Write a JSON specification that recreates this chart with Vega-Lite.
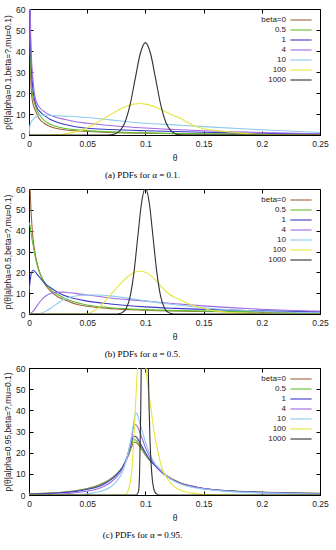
{
  "$schema": "https://vega.github.io/schema/vega-lite/v6.json",
  "padding": {"left": 3, "top": 4, "right": 0, "bottom": 0},
  "background": "white",
  "spacing": 3,
  "resolve": {"scale": {"color": "independent", "strokeWidth": "independent"}, "legend": {"color": "independent"}},
  "config": {
    "font": "Liberation Sans",
    "view": {"stroke": "black", "strokeWidth": 1},
    "axis": {"labelFont": "Liberation Sans", "labelFontSize": 8.5, "labelColor": "#222", "titleFont": "Liberation Sans", "titleFontSize": 8.5, "titleFontWeight": "normal", "titleColor": "#222", "tickColor": "black", "domainColor": "black", "grid": false, "tickSize": -4},
    "legend": {"labelFont": "Liberation Sans", "labelFontSize": 8, "labelColor": "#222"},
    "title": {"font": "Liberation Serif", "fontSize": 9, "fontWeight": "normal", "color": "black"}
  },
  "datasets": {
    "a": [
      {"beta": "beta=0", "t": 0.0003, "p": 90}, {"beta": "beta=0", "t": 0.0007, "p": 50}, {"beta": "beta=0", "t": 0.0012, "p": 32}, {"beta": "beta=0", "t": 0.002, "p": 21}, {"beta": "beta=0", "t": 0.003, "p": 16}, {"beta": "beta=0", "t": 0.0045, "p": 13}, {"beta": "beta=0", "t": 0.006, "p": 11}, {"beta": "beta=0", "t": 0.008, "p": 8.5}, {"beta": "beta=0", "t": 0.01, "p": 7}, {"beta": "beta=0", "t": 0.013, "p": 5.6}, {"beta": "beta=0", "t": 0.017, "p": 4.3}, {"beta": "beta=0", "t": 0.022, "p": 3.3}, {"beta": "beta=0", "t": 0.03, "p": 2.5}, {"beta": "beta=0", "t": 0.04, "p": 2.0}, {"beta": "beta=0", "t": 0.05, "p": 1.7}, {"beta": "beta=0", "t": 0.07, "p": 1.2}, {"beta": "beta=0", "t": 0.1, "p": 0.8}, {"beta": "beta=0", "t": 0.15, "p": 0.5}, {"beta": "beta=0", "t": 0.2, "p": 0.3}, {"beta": "beta=0", "t": 0.25, "p": 0.2},
      {"beta": "0.5", "t": 0.0004, "p": 90}, {"beta": "0.5", "t": 0.0008, "p": 55}, {"beta": "0.5", "t": 0.0013, "p": 38}, {"beta": "0.5", "t": 0.002, "p": 26}, {"beta": "0.5", "t": 0.003, "p": 19.5}, {"beta": "0.5", "t": 0.0045, "p": 15.5}, {"beta": "0.5", "t": 0.006, "p": 13}, {"beta": "0.5", "t": 0.008, "p": 10.5}, {"beta": "0.5", "t": 0.01, "p": 8.8}, {"beta": "0.5", "t": 0.013, "p": 7}, {"beta": "0.5", "t": 0.017, "p": 5.5}, {"beta": "0.5", "t": 0.022, "p": 4.3}, {"beta": "0.5", "t": 0.03, "p": 3.2}, {"beta": "0.5", "t": 0.04, "p": 2.5}, {"beta": "0.5", "t": 0.05, "p": 2.1}, {"beta": "0.5", "t": 0.07, "p": 1.5}, {"beta": "0.5", "t": 0.1, "p": 1.0}, {"beta": "0.5", "t": 0.15, "p": 0.6}, {"beta": "0.5", "t": 0.2, "p": 0.4}, {"beta": "0.5", "t": 0.25, "p": 0.25},
      {"beta": "1", "t": 0.0005, "p": 90}, {"beta": "1", "t": 0.001, "p": 55}, {"beta": "1", "t": 0.0017, "p": 38}, {"beta": "1", "t": 0.0025, "p": 28}, {"beta": "1", "t": 0.0035, "p": 21}, {"beta": "1", "t": 0.0049, "p": 16.5}, {"beta": "1", "t": 0.007, "p": 13}, {"beta": "1", "t": 0.01, "p": 10.8}, {"beta": "1", "t": 0.0134, "p": 9.2}, {"beta": "1", "t": 0.018, "p": 7.5}, {"beta": "1", "t": 0.023, "p": 6.3}, {"beta": "1", "t": 0.03, "p": 5.1}, {"beta": "1", "t": 0.04, "p": 3.9}, {"beta": "1", "t": 0.05, "p": 3.2}, {"beta": "1", "t": 0.07, "p": 2.6}, {"beta": "1", "t": 0.1, "p": 2.0}, {"beta": "1", "t": 0.15, "p": 1.3}, {"beta": "1", "t": 0.2, "p": 0.8}, {"beta": "1", "t": 0.25, "p": 0.5},
      {"beta": "4", "t": 0.0006, "p": 90}, {"beta": "4", "t": 0.0012, "p": 55}, {"beta": "4", "t": 0.002, "p": 38}, {"beta": "4", "t": 0.003, "p": 29}, {"beta": "4", "t": 0.004, "p": 23}, {"beta": "4", "t": 0.0049, "p": 19}, {"beta": "4", "t": 0.007, "p": 15}, {"beta": "4", "t": 0.01, "p": 12.5}, {"beta": "4", "t": 0.0134, "p": 11}, {"beta": "4", "t": 0.018, "p": 9.5}, {"beta": "4", "t": 0.023, "p": 8.5}, {"beta": "4", "t": 0.03, "p": 7.5}, {"beta": "4", "t": 0.04, "p": 6.3}, {"beta": "4", "t": 0.05, "p": 5.6}, {"beta": "4", "t": 0.07, "p": 4.5}, {"beta": "4", "t": 0.1, "p": 3.3}, {"beta": "4", "t": 0.125, "p": 2.6}, {"beta": "4", "t": 0.15, "p": 2.0}, {"beta": "4", "t": 0.2, "p": 1.2}, {"beta": "4", "t": 0.25, "p": 0.6},
      {"beta": "10", "t": 0, "p": 0}, {"beta": "10", "t": 0.0005, "p": 3.5}, {"beta": "10", "t": 0.001, "p": 5}, {"beta": "10", "t": 0.002, "p": 6.3}, {"beta": "10", "t": 0.004, "p": 7.8}, {"beta": "10", "t": 0.007, "p": 8.9}, {"beta": "10", "t": 0.011, "p": 9.5}, {"beta": "10", "t": 0.02, "p": 9.3}, {"beta": "10", "t": 0.03, "p": 9.0}, {"beta": "10", "t": 0.05, "p": 8.3}, {"beta": "10", "t": 0.07, "p": 7.2}, {"beta": "10", "t": 0.1, "p": 5.6}, {"beta": "10", "t": 0.125, "p": 4.8}, {"beta": "10", "t": 0.15, "p": 4.0}, {"beta": "10", "t": 0.2, "p": 2.5}, {"beta": "10", "t": 0.25, "p": 1.2},
      {"beta": "100", "t": 0, "p": 0}, {"beta": "100", "t": 0.025, "p": 0.1}, {"beta": "100", "t": 0.03, "p": 0.4}, {"beta": "100", "t": 0.035, "p": 0.9}, {"beta": "100", "t": 0.04, "p": 1.5}, {"beta": "100", "t": 0.045, "p": 2.2}, {"beta": "100", "t": 0.05, "p": 3.4}, {"beta": "100", "t": 0.055, "p": 4.8}, {"beta": "100", "t": 0.06, "p": 6.3}, {"beta": "100", "t": 0.065, "p": 8}, {"beta": "100", "t": 0.07, "p": 9.7}, {"beta": "100", "t": 0.075, "p": 11.3}, {"beta": "100", "t": 0.08, "p": 12.8}, {"beta": "100", "t": 0.085, "p": 13.9}, {"beta": "100", "t": 0.09, "p": 14.7}, {"beta": "100", "t": 0.095, "p": 15}, {"beta": "100", "t": 0.1, "p": 14.7}, {"beta": "100", "t": 0.105, "p": 14}, {"beta": "100", "t": 0.11, "p": 13}, {"beta": "100", "t": 0.115, "p": 11.7}, {"beta": "100", "t": 0.12, "p": 10.4}, {"beta": "100", "t": 0.125, "p": 9.1}, {"beta": "100", "t": 0.13, "p": 8}, {"beta": "100", "t": 0.135, "p": 6.3}, {"beta": "100", "t": 0.14, "p": 4.9}, {"beta": "100", "t": 0.145, "p": 3.8}, {"beta": "100", "t": 0.15, "p": 3.0}, {"beta": "100", "t": 0.16, "p": 2.2}, {"beta": "100", "t": 0.17, "p": 1.6}, {"beta": "100", "t": 0.18, "p": 1.0}, {"beta": "100", "t": 0.19, "p": 0.6}, {"beta": "100", "t": 0.2, "p": 0.3}, {"beta": "100", "t": 0.22, "p": 0.1}, {"beta": "100", "t": 0.25, "p": 0},
      {"beta": "1000", "t": 0, "p": 0}, {"beta": "1000", "t": 0.066, "p": 0}, {"beta": "1000", "t": 0.07, "p": 0.05}, {"beta": "1000", "t": 0.0736, "p": 0.49}, {"beta": "1000", "t": 0.078, "p": 1.93}, {"beta": "1000", "t": 0.0824, "p": 5.95}, {"beta": "1000", "t": 0.0868, "p": 14.3}, {"beta": "1000", "t": 0.0912, "p": 26.7}, {"beta": "1000", "t": 0.0956, "p": 38.8}, {"beta": "1000", "t": 0.1, "p": 44}, {"beta": "1000", "t": 0.1044, "p": 38.8}, {"beta": "1000", "t": 0.1088, "p": 26.7}, {"beta": "1000", "t": 0.1132, "p": 14.3}, {"beta": "1000", "t": 0.1176, "p": 5.95}, {"beta": "1000", "t": 0.122, "p": 1.93}, {"beta": "1000", "t": 0.1264, "p": 0.49}, {"beta": "1000", "t": 0.13, "p": 0.05}, {"beta": "1000", "t": 0.134, "p": 0}, {"beta": "1000", "t": 0.25, "p": 0}
    ],
    "b": [
      {"beta": "beta=0", "t": 0.0003, "p": 90}, {"beta": "beta=0", "t": 0.0006, "p": 70}, {"beta": "beta=0", "t": 0.001, "p": 60}, {"beta": "beta=0", "t": 0.002, "p": 47}, {"beta": "beta=0", "t": 0.0035, "p": 36}, {"beta": "beta=0", "t": 0.005, "p": 30}, {"beta": "beta=0", "t": 0.0063, "p": 26}, {"beta": "beta=0", "t": 0.008, "p": 22}, {"beta": "beta=0", "t": 0.0106, "p": 17.8}, {"beta": "beta=0", "t": 0.014, "p": 14}, {"beta": "beta=0", "t": 0.0192, "p": 10.6}, {"beta": "beta=0", "t": 0.025, "p": 8.2}, {"beta": "beta=0", "t": 0.0306, "p": 6.8}, {"beta": "beta=0", "t": 0.04, "p": 4.8}, {"beta": "beta=0", "t": 0.05, "p": 3.7}, {"beta": "beta=0", "t": 0.07, "p": 2.6}, {"beta": "beta=0", "t": 0.1, "p": 1.8}, {"beta": "beta=0", "t": 0.15, "p": 1.2}, {"beta": "beta=0", "t": 0.2, "p": 0.9}, {"beta": "beta=0", "t": 0.25, "p": 0.7},
      {"beta": "0.5", "t": 0, "p": 44}, {"beta": "0.5", "t": 0.001, "p": 42}, {"beta": "0.5", "t": 0.002, "p": 38}, {"beta": "0.5", "t": 0.0035, "p": 33}, {"beta": "0.5", "t": 0.005, "p": 28.5}, {"beta": "0.5", "t": 0.0063, "p": 25}, {"beta": "0.5", "t": 0.008, "p": 21.5}, {"beta": "0.5", "t": 0.0106, "p": 18}, {"beta": "0.5", "t": 0.014, "p": 14.8}, {"beta": "0.5", "t": 0.0192, "p": 11.5}, {"beta": "0.5", "t": 0.025, "p": 9.2}, {"beta": "0.5", "t": 0.0306, "p": 7.6}, {"beta": "0.5", "t": 0.04, "p": 5.6}, {"beta": "0.5", "t": 0.05, "p": 4.3}, {"beta": "0.5", "t": 0.07, "p": 3.0}, {"beta": "0.5", "t": 0.1, "p": 2.1}, {"beta": "0.5", "t": 0.15, "p": 1.4}, {"beta": "0.5", "t": 0.2, "p": 1.0}, {"beta": "0.5", "t": 0.25, "p": 0.75},
      {"beta": "1", "t": 0, "p": 10}, {"beta": "1", "t": 0.001, "p": 16}, {"beta": "1", "t": 0.002, "p": 19.5}, {"beta": "1", "t": 0.0034, "p": 21}, {"beta": "1", "t": 0.005, "p": 20.5}, {"beta": "1", "t": 0.007, "p": 19}, {"beta": "1", "t": 0.01, "p": 17}, {"beta": "1", "t": 0.014, "p": 14.5}, {"beta": "1", "t": 0.019, "p": 12.5}, {"beta": "1", "t": 0.026, "p": 10}, {"beta": "1", "t": 0.035, "p": 8}, {"beta": "1", "t": 0.049, "p": 6.3}, {"beta": "1", "t": 0.07, "p": 4.8}, {"beta": "1", "t": 0.1, "p": 3.4}, {"beta": "1", "t": 0.126, "p": 2.7}, {"beta": "1", "t": 0.15, "p": 2.2}, {"beta": "1", "t": 0.2, "p": 1.5}, {"beta": "1", "t": 0.25, "p": 1.0},
      {"beta": "4", "t": 0, "p": 0}, {"beta": "4", "t": 0.003, "p": 1}, {"beta": "4", "t": 0.006, "p": 3.2}, {"beta": "4", "t": 0.009, "p": 5.6}, {"beta": "4", "t": 0.012, "p": 7.5}, {"beta": "4", "t": 0.015, "p": 8.9}, {"beta": "4", "t": 0.0175, "p": 9.6}, {"beta": "4", "t": 0.021, "p": 10.2}, {"beta": "4", "t": 0.029, "p": 10.5}, {"beta": "4", "t": 0.035, "p": 10.2}, {"beta": "4", "t": 0.04, "p": 9.9}, {"beta": "4", "t": 0.05, "p": 9.1}, {"beta": "4", "t": 0.07, "p": 7.7}, {"beta": "4", "t": 0.1, "p": 6.2}, {"beta": "4", "t": 0.126, "p": 4.9}, {"beta": "4", "t": 0.15, "p": 3.9}, {"beta": "4", "t": 0.2, "p": 2.3}, {"beta": "4", "t": 0.25, "p": 1.4},
      {"beta": "10", "t": 0, "p": 0}, {"beta": "10", "t": 0.005, "p": 0}, {"beta": "10", "t": 0.01, "p": 0.3}, {"beta": "10", "t": 0.015, "p": 1.5}, {"beta": "10", "t": 0.02, "p": 3.3}, {"beta": "10", "t": 0.025, "p": 5.3}, {"beta": "10", "t": 0.029, "p": 6.8}, {"beta": "10", "t": 0.035, "p": 8}, {"beta": "10", "t": 0.04, "p": 8.6}, {"beta": "10", "t": 0.05, "p": 9.1}, {"beta": "10", "t": 0.06, "p": 9.1}, {"beta": "10", "t": 0.07, "p": 8.7}, {"beta": "10", "t": 0.08, "p": 8.0}, {"beta": "10", "t": 0.1, "p": 6.3}, {"beta": "10", "t": 0.12, "p": 4.8}, {"beta": "10", "t": 0.15, "p": 3.0}, {"beta": "10", "t": 0.2, "p": 1.3}, {"beta": "10", "t": 0.25, "p": 0.6},
      {"beta": "100", "t": 0, "p": 0}, {"beta": "100", "t": 0.046, "p": 0}, {"beta": "100", "t": 0.05, "p": 0.1}, {"beta": "100", "t": 0.055, "p": 1.3}, {"beta": "100", "t": 0.06, "p": 3.2}, {"beta": "100", "t": 0.065, "p": 6}, {"beta": "100", "t": 0.07, "p": 9.2}, {"beta": "100", "t": 0.075, "p": 12.3}, {"beta": "100", "t": 0.08, "p": 15.3}, {"beta": "100", "t": 0.085, "p": 18}, {"beta": "100", "t": 0.09, "p": 19.9}, {"beta": "100", "t": 0.095, "p": 20.5}, {"beta": "100", "t": 0.1, "p": 20}, {"beta": "100", "t": 0.105, "p": 18.3}, {"beta": "100", "t": 0.11, "p": 15.5}, {"beta": "100", "t": 0.115, "p": 12.4}, {"beta": "100", "t": 0.12, "p": 9.7}, {"beta": "100", "t": 0.125, "p": 8}, {"beta": "100", "t": 0.13, "p": 6.8}, {"beta": "100", "t": 0.135, "p": 5.4}, {"beta": "100", "t": 0.14, "p": 4.3}, {"beta": "100", "t": 0.145, "p": 3.4}, {"beta": "100", "t": 0.15, "p": 2.6}, {"beta": "100", "t": 0.16, "p": 1.5}, {"beta": "100", "t": 0.17, "p": 0.8}, {"beta": "100", "t": 0.18, "p": 0.4}, {"beta": "100", "t": 0.2, "p": 0.1}, {"beta": "100", "t": 0.25, "p": 0},
      {"beta": "1000", "t": 0, "p": 0}, {"beta": "1000", "t": 0.074, "p": 0}, {"beta": "1000", "t": 0.077, "p": 0.13}, {"beta": "1000", "t": 0.0802, "p": 0.67}, {"beta": "1000", "t": 0.0835, "p": 2.65}, {"beta": "1000", "t": 0.0868, "p": 8.2}, {"beta": "1000", "t": 0.0901, "p": 19.6}, {"beta": "1000", "t": 0.0934, "p": 36.7}, {"beta": "1000", "t": 0.0967, "p": 53.4}, {"beta": "1000", "t": 0.1, "p": 60.5}, {"beta": "1000", "t": 0.1033, "p": 53.4}, {"beta": "1000", "t": 0.1066, "p": 36.7}, {"beta": "1000", "t": 0.1099, "p": 19.6}, {"beta": "1000", "t": 0.1132, "p": 8.2}, {"beta": "1000", "t": 0.1165, "p": 2.65}, {"beta": "1000", "t": 0.1198, "p": 0.67}, {"beta": "1000", "t": 0.123, "p": 0.13}, {"beta": "1000", "t": 0.126, "p": 0}, {"beta": "1000", "t": 0.25, "p": 0}
    ],
    "c": [
      {"beta": "beta=0", "t": 0, "p": 0.6}, {"beta": "beta=0", "t": 0.02, "p": 1.0}, {"beta": "beta=0", "t": 0.03, "p": 1.4}, {"beta": "beta=0", "t": 0.04, "p": 2.0}, {"beta": "beta=0", "t": 0.05, "p": 3.0}, {"beta": "beta=0", "t": 0.06, "p": 4.7}, {"beta": "beta=0", "t": 0.065, "p": 6}, {"beta": "beta=0", "t": 0.07, "p": 7.6}, {"beta": "beta=0", "t": 0.075, "p": 9.8}, {"beta": "beta=0", "t": 0.08, "p": 13}, {"beta": "beta=0", "t": 0.083, "p": 15.7}, {"beta": "beta=0", "t": 0.086, "p": 19.5}, {"beta": "beta=0", "t": 0.088, "p": 22.5}, {"beta": "beta=0", "t": 0.09, "p": 25}, {"beta": "beta=0", "t": 0.092, "p": 24.8}, {"beta": "beta=0", "t": 0.095, "p": 23}, {"beta": "beta=0", "t": 0.1, "p": 18.9}, {"beta": "beta=0", "t": 0.104, "p": 16.2}, {"beta": "beta=0", "t": 0.108, "p": 14.2}, {"beta": "beta=0", "t": 0.115, "p": 10.5}, {"beta": "beta=0", "t": 0.122, "p": 7.9}, {"beta": "beta=0", "t": 0.13, "p": 5.8}, {"beta": "beta=0", "t": 0.14, "p": 4.2}, {"beta": "beta=0", "t": 0.15, "p": 3.1}, {"beta": "beta=0", "t": 0.17, "p": 2.1}, {"beta": "beta=0", "t": 0.2, "p": 1.4}, {"beta": "beta=0", "t": 0.25, "p": 0.8},
      {"beta": "0.5", "t": 0, "p": 0.5}, {"beta": "0.5", "t": 0.02, "p": 0.9}, {"beta": "0.5", "t": 0.03, "p": 1.3}, {"beta": "0.5", "t": 0.04, "p": 1.9}, {"beta": "0.5", "t": 0.05, "p": 2.8}, {"beta": "0.5", "t": 0.06, "p": 4.4}, {"beta": "0.5", "t": 0.065, "p": 5.7}, {"beta": "0.5", "t": 0.07, "p": 7.4}, {"beta": "0.5", "t": 0.075, "p": 9.7}, {"beta": "0.5", "t": 0.08, "p": 13}, {"beta": "0.5", "t": 0.083, "p": 16}, {"beta": "0.5", "t": 0.086, "p": 20.3}, {"beta": "0.5", "t": 0.088, "p": 23.6}, {"beta": "0.5", "t": 0.09, "p": 26.2}, {"beta": "0.5", "t": 0.092, "p": 25.9}, {"beta": "0.5", "t": 0.095, "p": 23.8}, {"beta": "0.5", "t": 0.1, "p": 19.3}, {"beta": "0.5", "t": 0.104, "p": 16.3}, {"beta": "0.5", "t": 0.108, "p": 14.1}, {"beta": "0.5", "t": 0.115, "p": 10.3}, {"beta": "0.5", "t": 0.122, "p": 7.7}, {"beta": "0.5", "t": 0.13, "p": 5.6}, {"beta": "0.5", "t": 0.14, "p": 4.0}, {"beta": "0.5", "t": 0.15, "p": 3.0}, {"beta": "0.5", "t": 0.17, "p": 2.0}, {"beta": "0.5", "t": 0.2, "p": 1.3}, {"beta": "0.5", "t": 0.25, "p": 0.7},
      {"beta": "1", "t": 0, "p": 0.4}, {"beta": "1", "t": 0.02, "p": 0.8}, {"beta": "1", "t": 0.03, "p": 1.2}, {"beta": "1", "t": 0.04, "p": 1.7}, {"beta": "1", "t": 0.05, "p": 2.6}, {"beta": "1", "t": 0.06, "p": 4.0}, {"beta": "1", "t": 0.065, "p": 5.3}, {"beta": "1", "t": 0.07, "p": 7}, {"beta": "1", "t": 0.075, "p": 9.4}, {"beta": "1", "t": 0.08, "p": 12.8}, {"beta": "1", "t": 0.083, "p": 16.2}, {"beta": "1", "t": 0.086, "p": 21}, {"beta": "1", "t": 0.088, "p": 25}, {"beta": "1", "t": 0.09, "p": 27.8}, {"beta": "1", "t": 0.092, "p": 27.5}, {"beta": "1", "t": 0.095, "p": 25}, {"beta": "1", "t": 0.1, "p": 20}, {"beta": "1", "t": 0.104, "p": 16.5}, {"beta": "1", "t": 0.108, "p": 14}, {"beta": "1", "t": 0.115, "p": 10.2}, {"beta": "1", "t": 0.122, "p": 7.6}, {"beta": "1", "t": 0.13, "p": 5.6}, {"beta": "1", "t": 0.14, "p": 4.1}, {"beta": "1", "t": 0.15, "p": 3.1}, {"beta": "1", "t": 0.17, "p": 2.0}, {"beta": "1", "t": 0.2, "p": 1.3}, {"beta": "1", "t": 0.25, "p": 0.7},
      {"beta": "4", "t": 0, "p": 0.1}, {"beta": "4", "t": 0.03, "p": 0.6}, {"beta": "4", "t": 0.04, "p": 1.1}, {"beta": "4", "t": 0.05, "p": 1.8}, {"beta": "4", "t": 0.06, "p": 3.1}, {"beta": "4", "t": 0.065, "p": 4.3}, {"beta": "4", "t": 0.07, "p": 5.9}, {"beta": "4", "t": 0.075, "p": 8.3}, {"beta": "4", "t": 0.08, "p": 12}, {"beta": "4", "t": 0.083, "p": 15.7}, {"beta": "4", "t": 0.086, "p": 21.5}, {"beta": "4", "t": 0.088, "p": 26.5}, {"beta": "4", "t": 0.09, "p": 32.5}, {"beta": "4", "t": 0.091, "p": 33.4}, {"beta": "4", "t": 0.093, "p": 32.5}, {"beta": "4", "t": 0.096, "p": 28.5}, {"beta": "4", "t": 0.1, "p": 22.5}, {"beta": "4", "t": 0.104, "p": 17.8}, {"beta": "4", "t": 0.108, "p": 14.5}, {"beta": "4", "t": 0.115, "p": 10.3}, {"beta": "4", "t": 0.122, "p": 7.5}, {"beta": "4", "t": 0.13, "p": 5.5}, {"beta": "4", "t": 0.14, "p": 4.0}, {"beta": "4", "t": 0.15, "p": 3.0}, {"beta": "4", "t": 0.17, "p": 1.9}, {"beta": "4", "t": 0.2, "p": 1.1}, {"beta": "4", "t": 0.25, "p": 0.5},
      {"beta": "10", "t": 0, "p": 0}, {"beta": "10", "t": 0.04, "p": 0.2}, {"beta": "10", "t": 0.05, "p": 0.6}, {"beta": "10", "t": 0.06, "p": 1.5}, {"beta": "10", "t": 0.065, "p": 2.4}, {"beta": "10", "t": 0.07, "p": 3.8}, {"beta": "10", "t": 0.075, "p": 6.3}, {"beta": "10", "t": 0.08, "p": 10.5}, {"beta": "10", "t": 0.083, "p": 15.3}, {"beta": "10", "t": 0.086, "p": 22}, {"beta": "10", "t": 0.088, "p": 27.5}, {"beta": "10", "t": 0.09, "p": 34.5}, {"beta": "10", "t": 0.0915, "p": 38.9}, {"beta": "10", "t": 0.093, "p": 38}, {"beta": "10", "t": 0.096, "p": 32.5}, {"beta": "10", "t": 0.1, "p": 25}, {"beta": "10", "t": 0.104, "p": 19}, {"beta": "10", "t": 0.108, "p": 15}, {"beta": "10", "t": 0.112, "p": 12.6}, {"beta": "10", "t": 0.118, "p": 9.3}, {"beta": "10", "t": 0.125, "p": 6.5}, {"beta": "10", "t": 0.13, "p": 5.2}, {"beta": "10", "t": 0.14, "p": 3.7}, {"beta": "10", "t": 0.15, "p": 2.8}, {"beta": "10", "t": 0.17, "p": 1.7}, {"beta": "10", "t": 0.2, "p": 1.0}, {"beta": "10", "t": 0.25, "p": 0.4},
      {"beta": "100", "t": 0, "p": 0}, {"beta": "100", "t": 0.082, "p": 0}, {"beta": "100", "t": 0.084, "p": 0.8}, {"beta": "100", "t": 0.086, "p": 3.5}, {"beta": "100", "t": 0.088, "p": 10}, {"beta": "100", "t": 0.09, "p": 25}, {"beta": "100", "t": 0.092, "p": 48}, {"beta": "100", "t": 0.094, "p": 66}, {"beta": "100", "t": 0.096, "p": 73}, {"beta": "100", "t": 0.098, "p": 70}, {"beta": "100", "t": 0.1, "p": 62}, {"beta": "100", "t": 0.102, "p": 52}, {"beta": "100", "t": 0.105, "p": 40}, {"beta": "100", "t": 0.108, "p": 28}, {"beta": "100", "t": 0.111, "p": 20}, {"beta": "100", "t": 0.114, "p": 13}, {"beta": "100", "t": 0.118, "p": 8.5}, {"beta": "100", "t": 0.122, "p": 5.5}, {"beta": "100", "t": 0.126, "p": 3.5}, {"beta": "100", "t": 0.13, "p": 2.3}, {"beta": "100", "t": 0.14, "p": 0.9}, {"beta": "100", "t": 0.15, "p": 0.3}, {"beta": "100", "t": 0.17, "p": 0.05}, {"beta": "100", "t": 0.25, "p": 0},
      {"beta": "1000", "t": 0, "p": 0}, {"beta": "1000", "t": 0.092, "p": 0}, {"beta": "1000", "t": 0.094, "p": 1.5}, {"beta": "1000", "t": 0.095, "p": 10}, {"beta": "1000", "t": 0.096, "p": 40}, {"beta": "1000", "t": 0.097, "p": 90}, {"beta": "1000", "t": 0.099, "p": 130}, {"beta": "1000", "t": 0.1, "p": 132}, {"beta": "1000", "t": 0.101, "p": 115}, {"beta": "1000", "t": 0.102, "p": 75}, {"beta": "1000", "t": 0.103, "p": 45}, {"beta": "1000", "t": 0.104, "p": 25}, {"beta": "1000", "t": 0.105, "p": 14}, {"beta": "1000", "t": 0.106, "p": 7}, {"beta": "1000", "t": 0.107, "p": 3.5}, {"beta": "1000", "t": 0.108, "p": 1.5}, {"beta": "1000", "t": 0.11, "p": 0.3}, {"beta": "1000", "t": 0.112, "p": 0}, {"beta": "1000", "t": 0.25, "p": 0}
    ]
  },
  "vconcat": [
    {
      "width": 291, "height": 126,
      "data": {"name": "a"},
      "title": {"text": "(a) PDFs for α = 0.1.", "orient": "bottom", "offset": 9, "dx": -32},
      "resolve": {"axis": {"x": "independent", "y": "independent"}},
      "layer": [
        {
          "mark": {"type": "line", "clip": true, "interpolate": "monotone"},
          "encoding": {
            "x": {"field": "t", "type": "quantitative", "scale": {"domain": [0, 0.25], "nice": false}, "axis": {"values": [0, 0.05, 0.1, 0.15, 0.2, 0.25], "format": "~g", "labelPadding": 8, "title": "θ", "titlePadding": 6, "labelFlush": false}},
            "y": {"field": "p", "type": "quantitative", "scale": {"domain": [0, 60], "nice": false}, "axis": {"values": [0, 10, 20, 30, 40, 50, 60], "labelPadding": 8, "title": "p(θ|alpha=0.1,beta=?,mu=0.1)", "titlePadding": 3, "labelFlush": false}},
            "color": {"field": "beta", "type": "nominal", "scale": {"domain": ["beta=0", "0.5", "1", "4", "10", "100", "1000"], "range": ["#a0623c", "#5fbf2f", "#3b3bc8", "#a06be0", "#8ccaf0", "#e6e63c", "#303030"]}, "legend": {"orient": "top-right", "offset": 6, "title": null, "symbolType": "M-2.5,0H2.5", "symbolSize": 72, "symbolStrokeWidth": 1.5, "labelAlign": "right", "labelOffset": -20, "rowPadding": 1, "padding": 0}},
            "strokeWidth": {"field": "beta", "type": "nominal", "scale": {"domain": ["beta=0", "0.5", "1", "4", "10", "100", "1000"], "range": [1.1, 1.1, 1.4, 1.1, 1.1, 1.8, 1.1]}, "legend": null}
          }
        },
        {
          "mark": {"type": "line", "strokeOpacity": 0, "clip": true},
          "encoding": {
            "x": {"field": "t", "type": "quantitative", "axis": {"orient": "top", "values": [0, 0.05, 0.1, 0.15, 0.2, 0.25], "labels": false, "title": null, "domain": false}},
            "y": {"field": "p", "type": "quantitative", "axis": {"orient": "right", "values": [0, 10, 20, 30, 40, 50, 60], "labels": false, "title": null, "domain": false}}
          }
        }
      ]
    },
    {
      "width": 291, "height": 125,
      "data": {"name": "b"},
      "title": {"text": "(b) PDFs for α = 0.5.", "orient": "bottom", "offset": 9, "dx": -32},
      "resolve": {"axis": {"x": "independent", "y": "independent"}},
      "layer": [
        {
          "mark": {"type": "line", "clip": true, "interpolate": "monotone"},
          "encoding": {
            "x": {"field": "t", "type": "quantitative", "scale": {"domain": [0, 0.25], "nice": false}, "axis": {"values": [0, 0.05, 0.1, 0.15, 0.2, 0.25], "format": "~g", "labelPadding": 8, "title": "θ", "titlePadding": 6, "labelFlush": false}},
            "y": {"field": "p", "type": "quantitative", "scale": {"domain": [0, 60], "nice": false}, "axis": {"values": [0, 10, 20, 30, 40, 50, 60], "labelPadding": 8, "title": "p(θ|alpha=0.5,beta=?,mu=0.1)", "titlePadding": 3, "labelFlush": false}},
            "color": {"field": "beta", "type": "nominal", "scale": {"domain": ["beta=0", "0.5", "1", "4", "10", "100", "1000"], "range": ["#a0623c", "#5fbf2f", "#3b3bc8", "#a06be0", "#8ccaf0", "#e6e63c", "#303030"]}, "legend": {"orient": "top-right", "offset": 6, "title": null, "symbolType": "M-2.5,0H2.5", "symbolSize": 72, "symbolStrokeWidth": 1.5, "labelAlign": "right", "labelOffset": -20, "rowPadding": 1, "padding": 0}},
            "strokeWidth": {"field": "beta", "type": "nominal", "scale": {"domain": ["beta=0", "0.5", "1", "4", "10", "100", "1000"], "range": [1.1, 1.1, 1.4, 1.1, 1.1, 1.8, 1.1]}, "legend": null}
          }
        },
        {
          "mark": {"type": "line", "strokeOpacity": 0, "clip": true},
          "encoding": {
            "x": {"field": "t", "type": "quantitative", "axis": {"orient": "top", "values": [0, 0.05, 0.1, 0.15, 0.2, 0.25], "labels": false, "title": null, "domain": false}},
            "y": {"field": "p", "type": "quantitative", "axis": {"orient": "right", "values": [0, 10, 20, 30, 40, 50, 60], "labels": false, "title": null, "domain": false}}
          }
        }
      ]
    },
    {
      "width": 291, "height": 127,
      "data": {"name": "c"},
      "title": {"text": "(c) PDFs for α = 0.95.", "orient": "bottom", "offset": 9, "dx": -32},
      "resolve": {"axis": {"x": "independent", "y": "independent"}},
      "layer": [
        {
          "mark": {"type": "line", "clip": true, "interpolate": "monotone"},
          "encoding": {
            "x": {"field": "t", "type": "quantitative", "scale": {"domain": [0, 0.25], "nice": false}, "axis": {"values": [0, 0.05, 0.1, 0.15, 0.2, 0.25], "format": "~g", "labelPadding": 8, "title": "θ", "titlePadding": 6, "labelFlush": false}},
            "y": {"field": "p", "type": "quantitative", "scale": {"domain": [0, 60], "nice": false}, "axis": {"values": [0, 10, 20, 30, 40, 50, 60], "labelPadding": 8, "title": "p(θ|alpha=0.95,beta=?,mu=0.1)", "titlePadding": 3, "labelFlush": false}},
            "color": {"field": "beta", "type": "nominal", "scale": {"domain": ["beta=0", "0.5", "1", "4", "10", "100", "1000"], "range": ["#a0623c", "#5fbf2f", "#3b3bc8", "#a06be0", "#8ccaf0", "#e6e63c", "#303030"]}, "legend": {"orient": "top-right", "offset": 6, "title": null, "symbolType": "M-2.5,0H2.5", "symbolSize": 72, "symbolStrokeWidth": 1.5, "labelAlign": "right", "labelOffset": -20, "rowPadding": 1, "padding": 0}},
            "strokeWidth": {"field": "beta", "type": "nominal", "scale": {"domain": ["beta=0", "0.5", "1", "4", "10", "100", "1000"], "range": [1.1, 1.1, 1.4, 1.1, 1.1, 1.8, 1.1]}, "legend": null}
          }
        },
        {
          "mark": {"type": "line", "strokeOpacity": 0, "clip": true},
          "encoding": {
            "x": {"field": "t", "type": "quantitative", "axis": {"orient": "top", "values": [0, 0.05, 0.1, 0.15, 0.2, 0.25], "labels": false, "title": null, "domain": false}},
            "y": {"field": "p", "type": "quantitative", "axis": {"orient": "right", "values": [0, 10, 20, 30, 40, 50, 60], "labels": false, "title": null, "domain": false}}
          }
        }
      ]
    }
  ]
}
